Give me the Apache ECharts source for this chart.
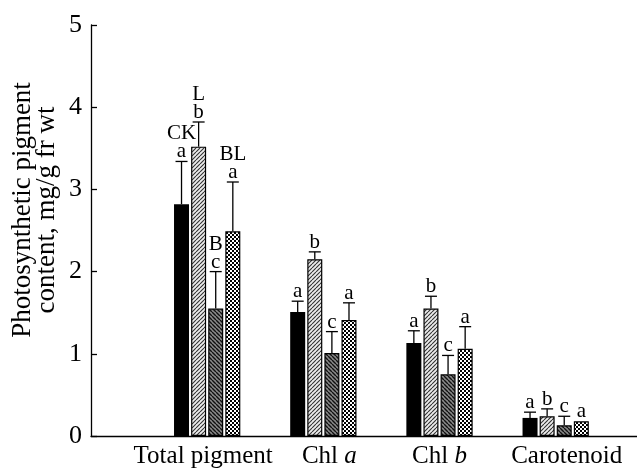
<!DOCTYPE html>
<html><head><meta charset="utf-8">
<script src="https://cdn.jsdelivr.net/npm/echarts/dist/echarts.min.js"></script>
<style>html,body{margin:0;padding:0;background:#fff}#c{width:637px;height:470px}</style>
</head><body><div id="c"></div>
<script>
// ---- data ----
const categories = ['Total pigment', 'Chl a', 'Chl b', 'Carotenoid'];
const categoryPos = [1, 2, 3, 4];
const treatments = ['CK', 'L', 'B', 'BL'];
const valuesCK = [2.82, 1.51, 1.13, 0.22];
const valuesL  = [3.52, 2.15, 1.55, 0.24];
const valuesB  = [1.55, 1.01, 0.75, 0.13];
const valuesBL = [2.49, 1.41, 1.06, 0.18];
const errCK = [0.52, 0.13, 0.15, 0.07];
const errL  = [0.30, 0.09, 0.15, 0.09];
const errB  = [0.45, 0.26, 0.23, 0.11];
const errBL = [0.60, 0.21, 0.27, 0.00];
const lettersCK = ['a', 'a', 'a', 'a'];
const lettersL  = ['b', 'b', 'b', 'b'];
const lettersB  = ['c', 'c', 'c', 'c'];
const lettersBL = ['a', 'a', 'a', 'a'];
const yTicks = [0, 1, 2, 3, 4, 5];
const yTitle = 'Photosynthetic pigment\ncontent, mg/g fr wt';

// ---- styling ----
const FONT = '"Liberation Serif", "Times New Roman", serif';
const BAR_W = 15, GAP_PCT = 14;
const STEP = BAR_W * (1 + GAP_PCT / 100);

function pattern(bg, draw, size) {
  const c = document.createElement('canvas');
  c.width = c.height = size;
  const g = c.getContext('2d');
  g.fillStyle = bg; g.fillRect(0, 0, size, size);
  draw(g, size);
  return { image: c, repeat: 'repeat' };
}
const patL = pattern('#ececec', (g, s) => {
  g.strokeStyle = '#333'; g.lineWidth = 1.1; g.beginPath();
  for (const k of [-s, 0, s]) { g.moveTo(k, s); g.lineTo(k + s, 0); }
  g.stroke();
}, 4);
const patB = pattern('#8a8a8a', (g, s) => {
  g.strokeStyle = '#111'; g.lineWidth = 1.4; g.beginPath();
  for (const k of [-s, 0, s]) { g.moveTo(k, 0); g.lineTo(k + s, s); }
  g.stroke();
}, 4);
const patBL = pattern('#000', (g, s) => {
  g.fillStyle = '#fff';
  g.fillRect(0, 0, 2, 2); g.fillRect(2, 2, 2, 2);
}, 4);

const groups = [
  { name: 'CK', vals: valuesCK, errs: errCK, letters: lettersCK, color: '#000', border: 0 },
  { name: 'L', vals: valuesL, errs: errL, letters: lettersL, color: patL, border: 1.2 },
  { name: 'B', vals: valuesB, errs: errB, letters: lettersB, color: patB, border: 1.2 },
  { name: 'BL', vals: valuesBL, errs: errBL, letters: lettersBL, color: patBL, border: 1.2 }
];

const series = [];
groups.forEach((grp) => {
  series.push({
    type: 'bar', name: grp.name, barWidth: BAR_W, barGap: GAP_PCT + '%',
    data: categoryPos.map((p, i) => [p, grp.vals[i]]),
    itemStyle: { color: grp.color, borderColor: '#000', borderWidth: grp.border },
    silent: true, z: 2
  });
});
groups.forEach((grp, gi) => {
  const off = (gi - 1.5) * STEP;
  series.push({
    type: 'custom', name: grp.name + '-err', z: 3, silent: true,
    data: categoryPos.map((p, i) => [p, grp.vals[i], grp.errs[i]]),
    renderItem: (params, api) => {
      const i = params.dataIndex;
      const x = api.value(0), v = api.value(1), e = api.value(2);
      const base = api.coord([x, v]);
      const top = api.coord([x, v + e]);
      const cx = base[0] + off;
      const children = [];
      if (e > 0) {
        children.push({ type: 'line', shape: { x1: cx, y1: base[1], x2: cx, y2: top[1] }, style: { stroke: '#000', lineWidth: 1.3 } });
        children.push({ type: 'line', shape: { x1: cx - 6, y1: top[1], x2: cx + 6, y2: top[1] }, style: { stroke: '#000', lineWidth: 1.3 } });
      }
      children.push({ type: 'text', style: { text: grp.letters[i], x: cx, y: top[1] + 1, align: 'center', verticalAlign: 'bottom', font: '21px ' + FONT, fill: '#000' } });
      if (i === 0) {
        children.push({ type: 'text', style: { text: grp.name, x: cx, y: top[1] - 17, align: 'center', verticalAlign: 'bottom', font: '21px ' + FONT, fill: '#000' } });
      }
      return { type: 'group', children };
    }
  });
});

const LF = 25;
const labelRich = {
  tp: { fontFamily: FONT, fontSize: LF, color: '#000', padding: [0, 8, 0, 0] },
  n: { fontFamily: FONT, fontSize: LF, color: '#000' },
  na: { fontFamily: FONT, fontSize: LF, color: '#000', padding: [0, 0, 0, 12] },
  i: { fontFamily: FONT, fontSize: LF, color: '#000', fontStyle: 'italic' },
  car: { fontFamily: FONT, fontSize: LF, color: '#000', padding: [0, 0, 0, 22] }
};
function xLabel(v) {
  const idx = categoryPos.indexOf(v);
  if (idx < 0) return '';
  const c = categories[idx];
  if (idx === 0) return '{tp|' + c + '}';
  if (idx === 1) return '{na|Chl }{i|a}';
  if (idx === 2) return '{n|Chl }{i|b}';
  return '{car|' + c + '}';
}

const chart = echarts.init(document.getElementById('c'), null, { renderer: 'canvas' });
chart.setOption({
  animation: false,
  backgroundColor: '#fff',
  grid: { left: 91, right: 0, top: 25, bottom: 34, containLabel: false, outerBoundsMode: 'none' },
  xAxis: {
    type: 'value', min: 0, max: 4.7, interval: 1,
    axisLine: { show: true, lineStyle: { color: '#000', width: 1.3 } },
    axisTick: { show: false }, splitLine: { show: false },
    axisLabel: { formatter: xLabel, rich: labelRich, margin: 8, showMinLabel: true, showMaxLabel: true, hideOverlap: false }
  },
  yAxis: {
    type: 'value', min: yTicks[0], max: yTicks[yTicks.length - 1], interval: 1,
    axisLine: { show: true, lineStyle: { color: '#000', width: 1.3 } },
    axisTick: { show: true, inside: true, length: 6, lineStyle: { color: '#000', width: 1.3 } },
    splitLine: { show: false },
    axisLabel: { fontFamily: FONT, fontSize: 26, color: '#000', margin: 9 }
  },
  graphic: [{
    type: 'text', x: 35, y: 210, rotation: Math.PI / 2, silent: true,
    style: { text: yTitle, align: 'center', verticalAlign: 'middle', font: '27px ' + FONT, lineHeight: 24, fill: '#000' }
  }],
  series
});
</script>
</body></html>
